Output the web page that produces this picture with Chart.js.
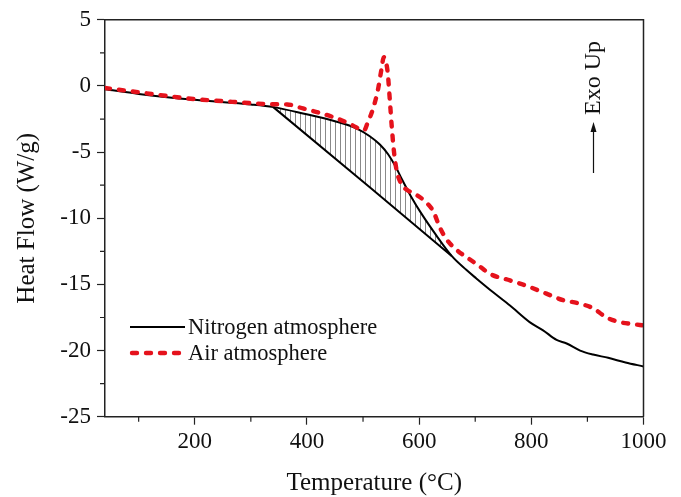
<!DOCTYPE html>
<html>
<head>
<meta charset="utf-8">
<script src="https://cdn.jsdelivr.net/npm/chart.js@4.4.1/dist/chart.umd.min.js"></script>
<style>
html,body{margin:0;padding:0;background:#fff;}
#wrap{width:681px;height:497px;position:relative;}
</style>
</head>
<body>
<div id="wrap"><canvas id="c" width="681" height="497"></canvas></div>
<script>
// ---- data ----
const nitrogenT  = [40, 100, 200, 300, 340, 393, 453, 488, 512, 530, 545, 558, 570, 585, 605, 630, 658, 684, 702, 732, 762, 797, 821, 845, 863, 887, 910, 937, 968, 1000];
const nitrogenHF = [-0.25, -0.6, -1.05, -1.4, -1.6, -2.08, -2.7, -3.2, -3.8, -4.43, -5.18, -6.09, -7.11, -8.31, -9.71, -11.26, -12.85, -13.9, -14.55, -15.6, -16.6, -17.85, -18.47, -19.2, -19.47, -20.0, -20.3, -20.55, -20.9, -21.2];

const airT  = [40, 86, 150, 200, 250, 300, 334, 365, 393, 420, 453, 480, 496, 502, 508, 518, 527, 533, 537, 541, 544, 548, 551, 555, 560, 569, 580, 590, 610, 625, 637, 649, 667, 690, 710, 726, 762, 791, 827, 857, 881, 910, 934, 958, 980, 1000];
const airHF = [-0.15, -0.4, -0.75, -1.0, -1.15, -1.3, -1.38, -1.4, -1.7, -2.0, -2.45, -2.95, -3.3, -3.35, -2.8, -1.7, -0.2, 1.3, 2.18, 1.8, 1.0, -1.2, -2.95, -4.9, -6.4, -7.45, -7.9, -8.1, -8.7, -9.46, -10.7, -11.6, -12.4, -13.1, -13.7, -14.2, -14.7, -15.1, -15.7, -16.2, -16.4, -16.8, -17.5, -17.85, -18.0, -18.1];

const baselineT  = [340, 512, 658];
const baselineHF = [-1.6, -7.65, -12.85];

const seriesNames = ['Nitrogen atmosphere', 'Air atmosphere'];
const xTickValues = [100, 200, 300, 400, 500, 600, 700, 800, 900, 1000];
const xLabelValues = [200, 400, 600, 800, 1000];
const yTickValues = [-25, -22.5, -20, -17.5, -15, -12.5, -10, -7.5, -5, -2.5, 0, 2.5, 5];
const yLabelValues = [-25, -20, -15, -10, -5, 0, 5];
const xTitle = 'Temperature (°C)';
const yTitle = 'Heat Flow (W/g)';
const noteText = 'Exo Up';

const toPts = (xs, ys) => xs.map((x, i) => ({x: x, y: ys[i]}));

const FONT = "'Liberation Serif', 'Times New Roman', serif";
const RED = '#e5121c';

const canvas = document.getElementById('c');
const ctx = canvas.getContext('2d');

// hatch pattern (vertical grey lines)
const pc = document.createElement('canvas');
pc.width = 5; pc.height = 4;
const pctx = pc.getContext('2d');
pctx.fillStyle = '#8a8a8a';
pctx.fillRect(0, 0, 1, 4);
const hatch = ctx.createPattern(pc, 'repeat');

const frameAndExtras = {
  id: 'frameAndExtras',
  afterDatasetsDraw(chart) {
    const {ctx, chartArea: a, scales: {x, y}} = chart;
    ctx.save();
    // frame top + right
    ctx.strokeStyle = '#222';
    ctx.lineWidth = 1.5;
    ctx.beginPath();
    ctx.moveTo(a.left, a.top);
    ctx.lineTo(a.right, a.top);
    ctx.lineTo(a.right, a.bottom);
    ctx.stroke();
    // minor ticks
    ctx.lineWidth = 1.2;
    ctx.beginPath();
    xTickValues.forEach(v => {
      if (xLabelValues.indexOf(v) < 0) {
        const px = x.getPixelForValue(v);
        ctx.moveTo(px, a.bottom);
        ctx.lineTo(px, a.bottom + 5);
      }
    });
    yTickValues.forEach(v => {
      if (yLabelValues.indexOf(v) < 0) {
        const py = y.getPixelForValue(v);
        ctx.moveTo(a.left, py);
        ctx.lineTo(a.left - 5, py);
      }
    });
    ctx.stroke();

    // legend
    const ds = chart.data.datasets;
    const lx = a.left + 25, lw = 55;
    const rows = [327, 353];
    ctx.font = '22.5px ' + FONT;
    ctx.textBaseline = 'middle';
    ctx.textAlign = 'left';
    [0, 1].forEach((k, i) => {
      const d = ds[k];
      ctx.save();
      ctx.strokeStyle = d.borderColor;
      ctx.lineWidth = d.borderWidth;
      ctx.lineCap = d.borderCapStyle || 'butt';
      ctx.setLineDash(d.borderDash || []);
      ctx.beginPath();
      ctx.moveTo(lx + (d.borderDash ? 2 : 0), rows[i]);
      ctx.lineTo(lx + lw, rows[i]);
      ctx.stroke();
      ctx.restore();
      ctx.fillStyle = '#111';
      ctx.fillText(d.label, lx + lw + 3, rows[i] + 1);
    });

    // Exo Up note with arrow
    const nx = a.right - 50;
    ctx.save();
    ctx.translate(nx, 78);
    ctx.rotate(-Math.PI / 2);
    ctx.font = '24px ' + FONT;
    ctx.textAlign = 'center';
    ctx.textBaseline = 'middle';
    ctx.fillStyle = '#111';
    ctx.fillText(noteText, 0, 0);
    ctx.restore();
    ctx.strokeStyle = '#111';
    ctx.lineWidth = 1.2;
    ctx.beginPath();
    ctx.moveTo(nx, 173);
    ctx.lineTo(nx, 130);
    ctx.stroke();
    ctx.fillStyle = '#111';
    ctx.beginPath();
    ctx.moveTo(nx, 122);
    ctx.lineTo(nx - 3, 132);
    ctx.lineTo(nx + 3, 132);
    ctx.closePath();
    ctx.fill();
    ctx.restore();
  }
};

new Chart(ctx, {
  type: 'line',
  data: {
    datasets: [
      {
        label: seriesNames[0],
        data: toPts(nitrogenT, nitrogenHF),
        borderColor: '#000',
        borderWidth: 2,
        pointRadius: 0,
        cubicInterpolationMode: 'monotone',
        fill: false,
        order: 1
      },
      {
        label: seriesNames[1],
        data: toPts(airT, airHF),
        borderColor: RED,
        borderWidth: 4.4,
        borderDash: [5, 9],
        borderCapStyle: 'round',
        pointRadius: 0,
        cubicInterpolationMode: 'monotone',
        fill: false,
        order: 0
      },
      {
        label: 'baseline',
        data: toPts(baselineT, baselineHF),
        borderColor: '#000',
        borderWidth: 2,
        pointRadius: 0,
        tension: 0,
        backgroundColor: hatch,
        fill: 0,
        order: 2
      }
    ]
  },
  options: {
    responsive: false,
    animation: false,
    devicePixelRatio: 1,
    layout: {padding: {left: 0, top: 18.3, right: 37.5, bottom: 0}},
    plugins: {
      legend: {display: false},
      tooltip: {enabled: false},
      filler: {propagate: false}
    },
    scales: {
      x: {
        type: 'linear',
        min: 40, max: 1000,
        afterBuildTicks: s => { s.ticks = xTickValues.map(v => ({value: v})); },
        afterFit: s => { s.height = 80.3; },
        ticks: {
          autoSkip: false,
          maxRotation: 0,
          padding: 3,
          color: '#111',
          font: {family: FONT, size: 23},
          callback: v => (xLabelValues.indexOf(v) >= 0 ? String(v) : '')
        },
        grid: {
          drawOnChartArea: false,
          drawTicks: true,
          tickLength: 8,
          tickWidth: 1.2,
          tickColor: c => (c.tick && xLabelValues.indexOf(c.tick.value) >= 0 ? '#222' : 'rgba(0,0,0,0)')
        },
        border: {display: true, color: '#222', width: 1.5},
        title: {
          display: true,
          text: xTitle,
          color: '#111',
          font: {family: FONT, size: 25, lineHeight: 1},
          padding: {top: 0, bottom: 1.5}
        }
      },
      y: {
        type: 'linear',
        min: -25, max: 5,
        afterBuildTicks: s => { s.ticks = yTickValues.map(v => ({value: v})); },
        afterFit: s => { s.width = 105; },
        ticks: {
          autoSkip: false,
          padding: 6,
          color: '#111',
          font: {family: FONT, size: 23},
          callback: v => (yLabelValues.indexOf(v) >= 0 ? String(v) : '')
        },
        grid: {
          drawOnChartArea: false,
          drawTicks: true,
          tickLength: 8,
          tickWidth: 1.2,
          tickColor: c => (c.tick && yLabelValues.indexOf(c.tick.value) >= 0 ? '#222' : 'rgba(0,0,0,0)')
        },
        border: {display: true, color: '#222', width: 1.5},
        title: {
          display: true,
          text: yTitle,
          color: '#111',
          font: {family: FONT, size: 25, lineHeight: 1},
          padding: {top: 14.5, bottom: 0}
        }
      }
    }
  },
  plugins: [frameAndExtras]
});
</script>
</body>
</html>
